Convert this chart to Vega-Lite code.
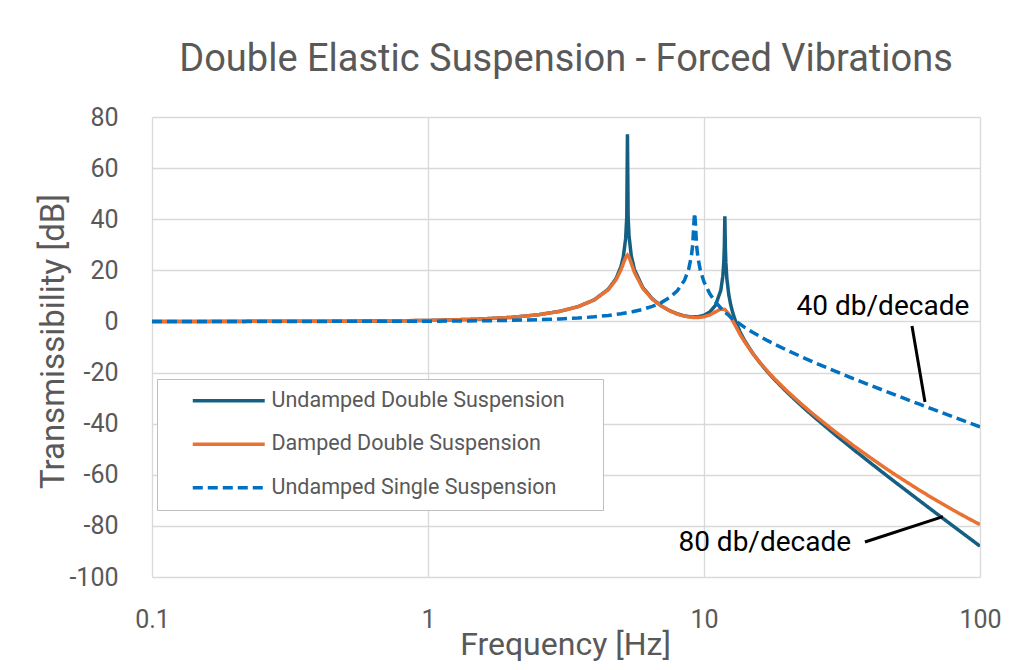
{
  "$schema": "https://vega.github.io/schema/vega-lite/v6.json",
  "width": 828,
  "height": 460,
  "autosize": {"type": "none"},
  "padding": {"left": 152, "top": 117, "right": 44, "bottom": 93},
  "background": "white",
  "config": {"view": {"stroke": null}, "font": "Roboto"},
  "title": {
    "text": "Double Elastic Suspension - Forced Vibrations",
    "fontSize": 38, "fontWeight": "normal", "color": "#595959",
    "frame": "group", "anchor": "middle", "offset": 26
  },
  "datasets": {
    "curves": [
      {"f": 0.1, "db": 0.0, "s": "Undamped Double Suspension"},
      {"f": 0.2, "db": 0.02, "s": "Undamped Double Suspension"},
      {"f": 0.5, "db": 0.09, "s": "Undamped Double Suspension"},
      {"f": 0.7, "db": 0.19, "s": "Undamped Double Suspension"},
      {"f": 1, "db": 0.38, "s": "Undamped Double Suspension"},
      {"f": 1.5, "db": 0.87, "s": "Undamped Double Suspension"},
      {"f": 2, "db": 1.59, "s": "Undamped Double Suspension"},
      {"f": 2.5, "db": 2.6, "s": "Undamped Double Suspension"},
      {"f": 3, "db": 3.96, "s": "Undamped Double Suspension"},
      {"f": 3.5, "db": 5.81, "s": "Undamped Double Suspension"},
      {"f": 4, "db": 8.45, "s": "Undamped Double Suspension"},
      {"f": 4.5, "db": 12.6, "s": "Undamped Double Suspension"},
      {"f": 4.8, "db": 16.75, "s": "Undamped Double Suspension"},
      {"f": 5, "db": 21.4, "s": "Undamped Double Suspension"},
      {"f": 5.1, "db": 25.23, "s": "Undamped Double Suspension"},
      {"f": 5.2, "db": 32.3, "s": "Undamped Double Suspension"},
      {"f": 5.25, "db": 40.8, "s": "Undamped Double Suspension"},
      {"f": 5.28, "db": 73.2, "s": "Undamped Double Suspension"},
      {"f": 5.31, "db": 40.8, "s": "Undamped Double Suspension"},
      {"f": 5.35, "db": 33.5, "s": "Undamped Double Suspension"},
      {"f": 5.45, "db": 25.74, "s": "Undamped Double Suspension"},
      {"f": 5.6, "db": 20.25, "s": "Undamped Double Suspension"},
      {"f": 6, "db": 13.3, "s": "Undamped Double Suspension"},
      {"f": 6.5, "db": 8.83, "s": "Undamped Double Suspension"},
      {"f": 7, "db": 6.1, "s": "Undamped Double Suspension"},
      {"f": 7.5, "db": 4.25, "s": "Undamped Double Suspension"},
      {"f": 8, "db": 2.97, "s": "Undamped Double Suspension"},
      {"f": 8.5, "db": 2.16, "s": "Undamped Double Suspension"},
      {"f": 9, "db": 1.77, "s": "Undamped Double Suspension"},
      {"f": 9.5, "db": 1.82, "s": "Undamped Double Suspension"},
      {"f": 10, "db": 2.39, "s": "Undamped Double Suspension"},
      {"f": 10.5, "db": 3.69, "s": "Undamped Double Suspension"},
      {"f": 11, "db": 6.27, "s": "Undamped Double Suspension"},
      {"f": 11.5, "db": 12.1, "s": "Undamped Double Suspension"},
      {"f": 11.7, "db": 17.72, "s": "Undamped Double Suspension"},
      {"f": 11.8, "db": 23.5, "s": "Undamped Double Suspension"},
      {"f": 11.85, "db": 29.5, "s": "Undamped Double Suspension"},
      {"f": 11.9, "db": 41.2, "s": "Undamped Double Suspension"},
      {"f": 11.95, "db": 29.1, "s": "Undamped Double Suspension"},
      {"f": 12, "db": 23.0, "s": "Undamped Double Suspension"},
      {"f": 12.1, "db": 16.81, "s": "Undamped Double Suspension"},
      {"f": 12.3, "db": 10.37, "s": "Undamped Double Suspension"},
      {"f": 12.5, "db": 6.44, "s": "Undamped Double Suspension"},
      {"f": 12.7, "db": 3.54, "s": "Undamped Double Suspension"},
      {"f": 13, "db": 0.18, "s": "Undamped Double Suspension"},
      {"f": 13.5, "db": -4.02, "s": "Undamped Double Suspension"},
      {"f": 14, "db": -7.3, "s": "Undamped Double Suspension"},
      {"f": 15, "db": -12.39, "s": "Undamped Double Suspension"},
      {"f": 16, "db": -16.4, "s": "Undamped Double Suspension"},
      {"f": 17, "db": -19.78, "s": "Undamped Double Suspension"},
      {"f": 18, "db": -22.72, "s": "Undamped Double Suspension"},
      {"f": 20, "db": -27.73, "s": "Undamped Double Suspension"},
      {"f": 22.5, "db": -32.91, "s": "Undamped Double Suspension"},
      {"f": 25, "db": -37.28, "s": "Undamped Double Suspension"},
      {"f": 30, "db": -44.48, "s": "Undamped Double Suspension"},
      {"f": 35, "db": -50.33, "s": "Undamped Double Suspension"},
      {"f": 40, "db": -55.28, "s": "Undamped Double Suspension"},
      {"f": 45, "db": -59.58, "s": "Undamped Double Suspension"},
      {"f": 50, "db": -63.39, "s": "Undamped Double Suspension"},
      {"f": 60, "db": -69.91, "s": "Undamped Double Suspension"},
      {"f": 70, "db": -75.38, "s": "Undamped Double Suspension"},
      {"f": 80, "db": -80.09, "s": "Undamped Double Suspension"},
      {"f": 90, "db": -84.23, "s": "Undamped Double Suspension"},
      {"f": 100, "db": -87.92, "s": "Undamped Double Suspension"},

      {"f": 0.1, "db": 0.0, "s": "Damped Double Suspension"},
      {"f": 0.5, "db": 0.09, "s": "Damped Double Suspension"},
      {"f": 1, "db": 0.38, "s": "Damped Double Suspension"},
      {"f": 1.5, "db": 0.87, "s": "Damped Double Suspension"},
      {"f": 2, "db": 1.59, "s": "Damped Double Suspension"},
      {"f": 2.5, "db": 2.59, "s": "Damped Double Suspension"},
      {"f": 3, "db": 3.94, "s": "Damped Double Suspension"},
      {"f": 3.5, "db": 5.78, "s": "Damped Double Suspension"},
      {"f": 4, "db": 8.38, "s": "Damped Double Suspension"},
      {"f": 4.5, "db": 12.42, "s": "Damped Double Suspension"},
      {"f": 4.8, "db": 16.29, "s": "Damped Double Suspension"},
      {"f": 5, "db": 20.15, "s": "Damped Double Suspension"},
      {"f": 5.1, "db": 22.63, "s": "Damped Double Suspension"},
      {"f": 5.2, "db": 24.98, "s": "Damped Double Suspension"},
      {"f": 5.28, "db": 25.96, "s": "Damped Double Suspension"},
      {"f": 5.35, "db": 25.2, "s": "Damped Double Suspension"},
      {"f": 5.45, "db": 22.75, "s": "Damped Double Suspension"},
      {"f": 5.6, "db": 19.14, "s": "Damped Double Suspension"},
      {"f": 6, "db": 12.97, "s": "Damped Double Suspension"},
      {"f": 6.5, "db": 8.68, "s": "Damped Double Suspension"},
      {"f": 7, "db": 6.05, "s": "Damped Double Suspension"},
      {"f": 7.5, "db": 4.19, "s": "Damped Double Suspension"},
      {"f": 8, "db": 2.9, "s": "Damped Double Suspension"},
      {"f": 8.5, "db": 2.05, "s": "Damped Double Suspension"},
      {"f": 9, "db": 1.6, "s": "Damped Double Suspension"},
      {"f": 9.5, "db": 1.51, "s": "Damped Double Suspension"},
      {"f": 10, "db": 1.82, "s": "Damped Double Suspension"},
      {"f": 10.5, "db": 2.57, "s": "Damped Double Suspension"},
      {"f": 11, "db": 3.73, "s": "Damped Double Suspension"},
      {"f": 11.5, "db": 4.83, "s": "Damped Double Suspension"},
      {"f": 11.9, "db": 4.68, "s": "Damped Double Suspension"},
      {"f": 12.3, "db": 2.88, "s": "Damped Double Suspension"},
      {"f": 12.7, "db": 0.22, "s": "Damped Double Suspension"},
      {"f": 13, "db": -1.66, "s": "Damped Double Suspension"},
      {"f": 13.5, "db": -5.02, "s": "Damped Double Suspension"},
      {"f": 14, "db": -7.81, "s": "Damped Double Suspension"},
      {"f": 15, "db": -12.48, "s": "Damped Double Suspension"},
      {"f": 16, "db": -16.3, "s": "Damped Double Suspension"},
      {"f": 17, "db": -19.54, "s": "Damped Double Suspension"},
      {"f": 18, "db": -22.39, "s": "Damped Double Suspension"},
      {"f": 20, "db": -27.25, "s": "Damped Double Suspension"},
      {"f": 22.5, "db": -32.27, "s": "Damped Double Suspension"},
      {"f": 25, "db": -36.47, "s": "Damped Double Suspension"},
      {"f": 30, "db": -43.3, "s": "Damped Double Suspension"},
      {"f": 35, "db": -48.78, "s": "Damped Double Suspension"},
      {"f": 40, "db": -53.26, "s": "Damped Double Suspension"},
      {"f": 45, "db": -57.11, "s": "Damped Double Suspension"},
      {"f": 50, "db": -60.4, "s": "Damped Double Suspension"},
      {"f": 60, "db": -65.87, "s": "Damped Double Suspension"},
      {"f": 70, "db": -70.25, "s": "Damped Double Suspension"},
      {"f": 80, "db": -73.85, "s": "Damped Double Suspension"},
      {"f": 90, "db": -76.88, "s": "Damped Double Suspension"},
      {"f": 100, "db": -79.48, "s": "Damped Double Suspension"},

      {"f": 0.1, "db": 0.0, "s": "Undamped Single Suspension"},
      {"f": 0.5, "db": 0.03, "s": "Undamped Single Suspension"},
      {"f": 1, "db": 0.1, "s": "Undamped Single Suspension"},
      {"f": 1.5, "db": 0.23, "s": "Undamped Single Suspension"},
      {"f": 2, "db": 0.42, "s": "Undamped Single Suspension"},
      {"f": 2.5, "db": 0.66, "s": "Undamped Single Suspension"},
      {"f": 3, "db": 0.97, "s": "Undamped Single Suspension"},
      {"f": 3.5, "db": 1.34, "s": "Undamped Single Suspension"},
      {"f": 4, "db": 1.8, "s": "Undamped Single Suspension"},
      {"f": 4.5, "db": 2.35, "s": "Undamped Single Suspension"},
      {"f": 5, "db": 3.0, "s": "Undamped Single Suspension"},
      {"f": 5.5, "db": 3.79, "s": "Undamped Single Suspension"},
      {"f": 6, "db": 4.74, "s": "Undamped Single Suspension"},
      {"f": 6.5, "db": 5.91, "s": "Undamped Single Suspension"},
      {"f": 7, "db": 7.38, "s": "Undamped Single Suspension"},
      {"f": 7.5, "db": 9.31, "s": "Undamped Single Suspension"},
      {"f": 8, "db": 11.97, "s": "Undamped Single Suspension"},
      {"f": 8.5, "db": 16.16, "s": "Undamped Single Suspension"},
      {"f": 8.8, "db": 20.45, "s": "Undamped Single Suspension"},
      {"f": 9, "db": 25.47, "s": "Undamped Single Suspension"},
      {"f": 9.1, "db": 29.9, "s": "Undamped Single Suspension"},
      {"f": 9.2, "db": 39.4, "s": "Undamped Single Suspension"},
      {"f": 9.25, "db": 42.4, "s": "Undamped Single Suspension"},
      {"f": 9.3, "db": 39.3, "s": "Undamped Single Suspension"},
      {"f": 9.4, "db": 29.7, "s": "Undamped Single Suspension"},
      {"f": 9.5, "db": 25.2, "s": "Undamped Single Suspension"},
      {"f": 9.7, "db": 20.0, "s": "Undamped Single Suspension"},
      {"f": 10, "db": 15.45, "s": "Undamped Single Suspension"},
      {"f": 10.5, "db": 10.79, "s": "Undamped Single Suspension"},
      {"f": 11, "db": 7.65, "s": "Undamped Single Suspension"},
      {"f": 11.5, "db": 5.26, "s": "Undamped Single Suspension"},
      {"f": 12, "db": 3.31, "s": "Undamped Single Suspension"},
      {"f": 13, "db": 0.22, "s": "Undamped Single Suspension"},
      {"f": 14, "db": -2.22, "s": "Undamped Single Suspension"},
      {"f": 15, "db": -4.24, "s": "Undamped Single Suspension"},
      {"f": 17, "db": -7.52, "s": "Undamped Single Suspension"},
      {"f": 20, "db": -11.31, "s": "Undamped Single Suspension"},
      {"f": 25, "db": -15.99, "s": "Undamped Single Suspension"},
      {"f": 30, "db": -19.57, "s": "Undamped Single Suspension"},
      {"f": 35, "db": -22.49, "s": "Undamped Single Suspension"},
      {"f": 40, "db": -24.96, "s": "Undamped Single Suspension"},
      {"f": 50, "db": -29.01, "s": "Undamped Single Suspension"},
      {"f": 60, "db": -32.27, "s": "Undamped Single Suspension"},
      {"f": 70, "db": -35.01, "s": "Undamped Single Suspension"},
      {"f": 80, "db": -37.36, "s": "Undamped Single Suspension"},
      {"f": 90, "db": -39.43, "s": "Undamped Single Suspension"},
      {"f": 100, "db": -41.28, "s": "Undamped Single Suspension"}
    ],
    "pointers": [
      {"f": 56.7, "db": -1.8, "f2": 63.2, "db2": -31.5},
      {"f": 38.3, "db": -86.3, "f2": 73.4, "db2": -76.4}
    ],
    "notes": [
      {"f": 44.5, "db": 5.6, "label": "40 db/decade"},
      {"f": 16.6, "db": -86.7, "label": "80 db/decade"}
    ]
  },
  "layer": [
    {
      "data": {"name": "curves"},
      "mark": {"type": "line", "strokeWidth": 3.5, "clip": true},
      "encoding": {
        "x": {
          "field": "f", "type": "quantitative",
          "scale": {"type": "log", "domain": [0.1, 100]},
          "axis": {
            "title": "Frequency [Hz]", "values": [0.1, 1, 10, 100], "format": "~g",
            "grid": true, "gridColor": "#D9D9D9", "gridWidth": 1.3,
            "domain": false, "ticks": false, "labelFlush": false,
            "labelFontSize": 25, "labelColor": "#595959", "labelPadding": 30,
            "titleFontSize": 32, "titleFontWeight": "normal", "titleColor": "#595959",
            "titleX": 413, "titleY": 67, "titleBaseline": "middle", "titleAlign": "center"
          }
        },
        "y": {
          "field": "db", "type": "quantitative",
          "scale": {"domain": [-100, 80], "nice": false, "zero": false},
          "axis": {
            "title": "Transmissibility [dB]",
            "values": [-100, -80, -60, -40, -20, 0, 20, 40, 60, 80],
            "labelExpr": "'' + datum.value",
            "grid": true, "gridColor": "#D9D9D9", "gridWidth": 1.3,
            "domain": false, "ticks": false, "labelFlush": false,
            "labelFontSize": 25, "labelColor": "#595959", "labelPadding": 34,
            "titleFontSize": 33, "titleFontWeight": "normal", "titleColor": "#595959",
            "titleX": -99, "titleY": 224, "titleAngle": -90,
            "titleBaseline": "middle", "titleAlign": "center"
          }
        },
        "color": {
          "field": "s", "type": "nominal",
          "scale": {
            "domain": ["Undamped Double Suspension", "Damped Double Suspension", "Undamped Single Suspension"],
            "range": ["#156082", "#E97132", "#0070C0"]
          },
          "legend": {
            "orient": "none", "legendX": 5, "legendY": 262,
            "title": "MM", "titleOrient": "right", "titleOpacity": 0,
            "titleFontSize": 12, "titlePadding": 5,
            "labelFontSize": 21.5, "labelColor": "#595959", "labelLimit": 500,
            "symbolType": "M-4.114,0H4.114", "symbolSize": 306, "symbolStrokeWidth": 3.5,
            "symbolOffset": 50, "labelOffset": 32, "rowPadding": 20.5,
            "padding": 11, "strokeColor": "#BFBFBF", "fillColor": "white"
          }
        },
        "strokeDash": {
          "field": "s", "type": "nominal",
          "scale": {
            "domain": ["Undamped Double Suspension", "Damped Double Suspension", "Undamped Single Suspension"],
            "range": [[1, 0], [1, 0], [10, 5]]
          },
          "legend": null
        }
      }
    },
    {
      "data": {"name": "pointers"},
      "mark": {"type": "rule", "color": "black", "strokeWidth": 3},
      "encoding": {
        "x": {"field": "f", "type": "quantitative"},
        "y": {"field": "db", "type": "quantitative"},
        "x2": {"field": "f2"},
        "y2": {"field": "db2"}
      }
    },
    {
      "data": {"name": "notes"},
      "mark": {"type": "text", "fontSize": 28, "color": "black", "align": "center", "baseline": "middle"},
      "encoding": {
        "x": {"field": "f", "type": "quantitative"},
        "y": {"field": "db", "type": "quantitative"},
        "text": {"field": "label"}
      }
    }
  ]
}
